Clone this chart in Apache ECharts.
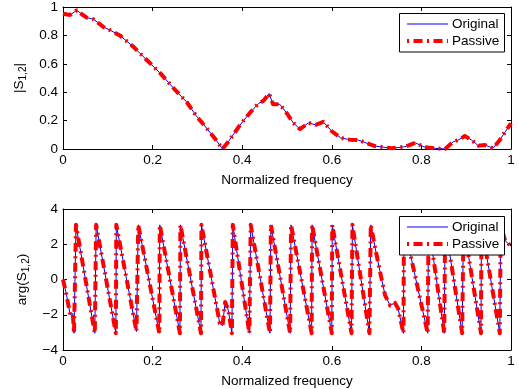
<!DOCTYPE html>
<html>
<head>
<meta charset="utf-8">
<script src="https://cdn.jsdelivr.net/npm/echarts@6/dist/echarts.min.js"></script>
<style>
html,body{margin:0;padding:0;background:#fff;}
#chart{width:519px;height:389px;}
</style>
</head>
<body>
<div id="chart"></div>
<script>
// ---- data ----
const freqMag = [0.000,0.016,0.031,0.042,0.053,0.068,0.090,0.105,0.127,0.157,0.187,0.217,0.246,0.276,0.298,0.317,0.343,0.356,0.369,0.395,0.417,0.436,0.447,0.460,0.469,0.484,0.500,0.514,0.529,0.548,0.564,0.581,0.600,0.620,0.640,0.659,0.696,0.734,0.763,0.786,0.808,0.830,0.853,0.871,0.882,0.897,0.912,0.927,0.942,0.960,0.975,0.987,1.000];
const magOriginal = [0.953,0.944,0.977,0.949,0.925,0.914,0.860,0.837,0.800,0.720,0.627,0.534,0.431,0.331,0.231,0.161,0.058,0.000,0.051,0.168,0.254,0.319,0.338,0.390,0.315,0.315,0.250,0.184,0.140,0.184,0.170,0.191,0.125,0.078,0.066,0.063,0.021,0.005,0.016,0.044,0.012,0.005,0.000,0.051,0.063,0.091,0.063,0.023,0.028,0.005,0.063,0.121,0.180];
const magPassive = [0.953,0.944,0.977,0.949,0.925,0.914,0.860,0.837,0.800,0.720,0.627,0.534,0.431,0.331,0.231,0.161,0.058,0.000,0.051,0.168,0.254,0.319,0.338,0.390,0.315,0.315,0.250,0.184,0.140,0.184,0.170,0.191,0.125,0.078,0.066,0.063,0.021,0.005,0.016,0.044,0.012,0.005,0.000,0.051,0.063,0.091,0.063,0.023,0.028,0.005,0.063,0.121,0.180];

const freqPhase = [0.000,0.008,0.016,0.022,0.0246,0.029,0.071,0.074,0.118,0.119,0.164,0.168,0.215,0.216,0.261,0.262,0.308,0.309,0.350,0.356,0.362,0.369,0.377,0.379,0.416,0.419,0.462,0.464,0.507,0.509,0.555,0.556,0.600,0.601,0.644,0.646,0.684,0.687,0.696,0.708,0.719,0.730,0.741,0.748,0.760,0.761,0.814,0.816,0.851,0.853,0.891,0.894,0.933,0.934,0.975,0.977,0.987,1.000];
const phaseOriginal = [0.00,-0.90,-1.99,-1.93,-3.05,3.10,-3.05,3.10,-3.05,3.10,-2.95,3.10,-3.05,3.10,-3.05,3.10,-3.05,3.10,-2.49,-2.62,-1.28,-1.74,-3.05,3.10,-3.05,3.10,-3.05,3.10,-3.05,3.10,-3.05,3.10,-3.05,3.10,-3.05,3.10,-3.05,3.10,1.89,0.40,-0.90,-1.47,-1.33,-1.65,-3.05,3.10,-3.05,3.10,-3.05,3.10,-3.05,3.10,-3.05,3.10,-3.05,3.10,2.20,1.90];
const phasePassive = [0.00,-0.90,-1.99,-1.93,-3.05,3.10,-3.05,3.10,-3.05,3.10,-2.95,3.10,-3.05,3.10,-3.05,3.10,-3.05,3.10,-2.49,-2.62,-1.28,-1.74,-3.05,3.10,-3.05,3.10,-3.05,3.10,-3.05,3.10,-3.05,3.10,-3.05,3.10,-3.05,3.10,-3.05,3.10,1.89,0.40,-0.90,-1.47,-1.33,-1.65,-3.05,3.10,-3.05,3.10,-3.05,3.10,-3.05,3.10,-3.05,3.10,-3.05,3.10,2.20,1.90];

const legendNames = ['Original','Passive'];
const xLabel = 'Normalized frequency';

// ---- build ----
const FONT = 'Liberation Sans, Arial, Helvetica, sans-serif';
const FS = 13.5;
const BLUE = '#0000ff', RED = '#ff0000';
const DASHDOT = [9, 4.5, 2, 4.5];
const pairs = (xs, ys) => xs.map((x, i) => [x, ys[i]]);
const minus = v => String(v).replace('-', '\u2212');

const G1 = {left: 63, top: 6, width: 448, height: 143};
const G2 = {left: 63, top: 209, width: 448, height: 143};

function xAxes(gi) {
  const base = {
    type: 'value', gridIndex: gi, min: 0, max: 1, interval: 0.2,
    axisLine: {show: true, onZero: false, lineStyle: {color: '#000', width: 1}},
    axisTick: {show: true, inside: true, length: 4, lineStyle: {color: '#000'}},
    splitLine: {show: false}
  };
  return [
    Object.assign({}, base, {
      position: 'bottom',
      axisLabel: {show: true, margin: 4, color: '#000', fontSize: FS, fontFamily: FONT},
      name: xLabel, nameLocation: 'middle', nameGap: 24,
      nameTextStyle: {color: '#000', fontSize: FS, fontFamily: FONT}
    }),
    Object.assign({}, base, {position: 'top', axisLabel: {show: false}})
  ];
}
function yAxes(gi, min, max, interval, name, gap) {
  const base = {
    type: 'value', gridIndex: gi, min: min, max: max, interval: interval,
    axisLine: {show: true, onZero: false, lineStyle: {color: '#000', width: 1}},
    axisTick: {show: true, inside: true, length: 4, lineStyle: {color: '#000'}},
    splitLine: {show: false}
  };
  return [
    Object.assign({}, base, {
      position: 'left',
      axisLabel: {show: true, margin: 5, color: '#000', fontSize: FS, fontFamily: FONT, formatter: minus},
      name: name, nameLocation: 'middle', nameGap: gap,
      nameTextStyle: {
        color: '#000', fontSize: FS, fontFamily: FONT, lineHeight: 18,
        rich: {sub: {color: '#000', fontSize: 10, fontFamily: FONT, lineHeight: 10, verticalAlign: 'bottom'}}
      }
    }),
    Object.assign({}, base, {position: 'right', axisLabel: {show: false}})
  ];
}

function legend(top) {
  const x0 = 399.5, w = 105, h = 38.5;
  const y1 = top + 11, y2 = top + 28;
  return [
    {type: 'rect', z: 100, shape: {x: x0, y: top + 0.5, width: w, height: h}, style: {fill: '#fff', stroke: '#000', lineWidth: 1}},
    {type: 'line', z: 101, shape: {x1: 407, y1: y1, x2: 448, y2: y1}, style: {stroke: BLUE, lineWidth: 1}},
    {type: 'text', z: 101, style: {text: legendNames[0], x: 452, y: y1, verticalAlign: 'middle', fill: '#000', font: FS + 'px ' + FONT}},
    {type: 'line', z: 101, shape: {x1: 407, y1: y2, x2: 448, y2: y2}, style: {stroke: RED, lineWidth: 4, lineDash: DASHDOT, lineDashOffset: 13.5, lineCap: 'butt'}},
    {type: 'text', z: 101, style: {text: legendNames[1], x: 452, y: y2, verticalAlign: 'middle', fill: '#000', font: FS + 'px ' + FONT}}
  ];
}

function lineSeries(name, xi, yi, data, color, width, dash) {
  return {
    name: name, type: 'line', xAxisIndex: xi, yAxisIndex: yi,
    data: data, showSymbol: false, symbol: 'none', smooth: false,
    lineStyle: {color: color, width: width, type: dash || 'solid', cap: 'butt', join: 'round'},
    silent: true, clip: true
  };
}

const chart = echarts.init(document.getElementById('chart'), null, {renderer: 'canvas'});
chart.setOption({
  animation: false,
  backgroundColor: '#fff',
  textStyle: {fontFamily: FONT},
  grid: [G1, G2],
  xAxis: xAxes(0).concat(xAxes(1)),
  yAxis: yAxes(0, 0, 1, 0.2, '|S{sub|1,2}|', 34).concat(yAxes(1, -4, 4, 2, 'arg(S{sub|1,2})', 28)),
  series: [
    lineSeries(legendNames[0], 0, 0, pairs(freqMag, magOriginal), BLUE, 1),
    lineSeries(legendNames[1], 0, 0, pairs(freqMag, magPassive), RED, 4, DASHDOT),
    lineSeries(legendNames[0], 2, 2, pairs(freqPhase, phaseOriginal), BLUE, 1),
    lineSeries(legendNames[1], 2, 2, pairs(freqPhase, phasePassive), RED, 4, DASHDOT)
  ],
  graphic: {elements: legend(13).concat(legend(216))}
});
</script>
</body>
</html>
